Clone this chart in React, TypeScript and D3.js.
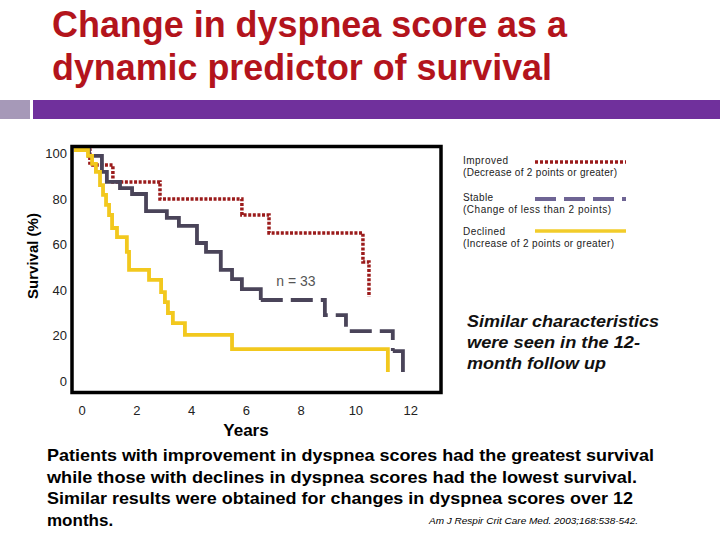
import React from "react";
import * as d3 from "d3";

const W = 720;
const H = 540;

// Kaplan–Meier step data: [years, survival %]
const improvedData: [number, number][] = [
  [0, 100], [0.58, 93.4], [1.42, 86.0], [3.14, 78.5], [6.13, 71.5], [7.12, 63.6], [10.55, 50.9], [10.77, 35.5],
];
const stableData: [number, number][] = [
  [0, 100], [0.55, 97.4], [1.02, 90.4], [1.2, 86.0], [1.68, 83.3], [2.12, 80.7], [2.63, 73.2], [3.39, 70.2],
  [3.83, 66.7], [4.49, 59.2], [4.82, 55.3], [5.36, 47.4], [5.77, 43.4], [6.13, 39.0], [6.82, 34.2],
];
const stableTail: [number, number][] = [
  [6.82, 34.2], [9.16, 27.6], [9.93, 20.6], [11.64, 11.8],
];
const stableEnd: [number, number][] = [
  [11.64, 11.8], [12.01, 2.6],
];
const declinedData: [number, number][] = [
  [0, 100], [0.51, 97.4], [0.66, 93.9], [0.8, 90.4], [0.95, 84.6], [1.06, 80.3], [1.17, 75.9], [1.28, 71.5],
  [1.39, 65.8], [1.57, 61.8], [1.93, 55.3], [2.01, 47.4], [2.74, 43.0], [3.18, 37.7], [3.32, 33.3],
  [3.43, 28.5], [3.61, 24.1], [4.05, 18.9], [5.77, 12.7], [11.46, 2.6],
];
const xTicks = [0, 2, 4, 6, 8, 10, 12];
const yTicks = [0, 20, 40, 60, 80, 100];

const legendItems = [
  { name: "Improved", desc: "(Decrease of  2 points or greater)", color: "#9b1b1b", dash: "3,2", width: 3.5, nameW: 45, descW: 154 },
  { name: "Stable", desc: "(Change of less than 2 points)", color: "#6e6494", dash: "21,8", width: 4, nameW: 30, descW: 148 },
  { name: "Declined", desc: "(Increase of  2 points or greater)", color: "#f2cc2a", dash: "none", width: 3.5, nameW: 42, descW: 151 },
];

const titleLines = ["Change in dyspnea score as a", "dynamic predictor of survival"];
const noteLines = ["Similar characteristics", "were seen in the 12-", "month follow up"];
const noteWidths = [192, 173, 139];
const bodyLines = [
  "Patients with improvement in dyspnea scores had the greatest survival",
  "while those with declines in dyspnea scores had the lowest survival.",
  "Similar results were obtained for changes in dyspnea scores over 12",
  "months.",
];

export default function App() {
  const x = d3.scaleLinear().domain([0, 13.4]).range([74, 441]);
  const y = d3.scaleLinear().domain([0, 100]).range([378, 150]);
  const line = d3
    .line<[number, number]>()
    .x((d) => x(d[0]))
    .y((d) => y(d[1]))
    .curve(d3.curveStepAfter);

  const legendX0 = 535;
  const legendX1 = 626;
  const legendY = [162, 199, 231];
  const legendTextY = [161, 198, 232];

  return (
    <svg
      width={W}
      height={H}
      style={{ position: "absolute", left: 0, top: 0, background: "#fff" }}
      fontFamily="'Liberation Sans', Arial, sans-serif"
    >
      <rect x={0} y={0} width={W} height={H} fill="#fff" />
      {/* Title */}
      {titleLines.map((t, i) => (
        <text key={i} x={52} y={37 + i * 43} fontSize={36} fontWeight="bold" fill="#b3141c" textLength={i === 0 ? 515 : 500} lengthAdjust="spacingAndGlyphs">
          {t}
        </text>
      ))}
      {/* Decorative bars */}
      <rect x={0} y={100} width={30} height={19} fill="#a699b8" />
      <rect x={33} y={100} width={687} height={19} fill="#70309c" />

      {/* Curves */}
      <path d={line(improvedData) || ""} fill="none" stroke="#9b1b1b" strokeWidth={3.5} strokeDasharray="3,1.6" />
      <path d={line(stableData) || ""} fill="none" stroke="#4a4459" strokeWidth={3.8} />
      <path d={line(stableTail) || ""} fill="none" stroke="#4a4459" strokeWidth={3.8} strokeDasharray="22,8" />
      <path d={line(stableEnd) || ""} fill="none" stroke="#4a4459" strokeWidth={3.8} />
      <path d={line(declinedData) || ""} fill="none" stroke="#f2c81e" strokeWidth={3.8} />

      {/* Frame */}
      <rect x={72} y={146.5} width={369} height={246} fill="none" stroke="#000" strokeWidth={3.5} />

      {/* Y ticks */}
      {yTicks.map((v) => (
        <text key={v} x={67} y={y(v) + 8} fontSize={13} textAnchor="end" fill="#222">
          {v}
        </text>
      ))}
      {/* X ticks */}
      {xTicks.map((v) => (
        <text key={v} x={x(v) + 8} y={415} fontSize={13} textAnchor="middle" fill="#222">
          {v}
        </text>
      ))}
      <text x={246} y={436} fontSize={17} fontWeight="bold" textAnchor="middle" fill="#000">
        Years
      </text>
      <text transform="translate(38,256) rotate(-90)" fontSize={15} fontWeight="bold" textAnchor="middle" fill="#000">
        Survival (%)
      </text>

      <text x={296} y={286} fontSize={14} textAnchor="middle" fill="#555">
        n = 33
      </text>

      {/* Legend */}
      {legendItems.map((it, i) => (
        <g key={it.name}>
          <text x={463} y={legendTextY[i] + 3} fontSize={10} fill="#222" textLength={it.nameW} lengthAdjust="spacing">
            {it.name}
          </text>
          <text x={463} y={legendTextY[i] + 15} fontSize={10} fill="#222" textLength={it.descW} lengthAdjust="spacing">
            {it.desc}
          </text>
          <line x1={legendX0} x2={legendX1} y1={legendY[i]} y2={legendY[i]} stroke={it.color} strokeWidth={it.width} strokeDasharray={it.dash} />
        </g>
      ))}

      {/* Note */}
      {noteLines.map((t, i) => (
        <text key={i} x={467} y={327 + i * 21} fontSize={16.5} fontWeight="bold" fontStyle="italic" fill="#111" textLength={noteWidths[i]} lengthAdjust="spacingAndGlyphs">
          {t}
        </text>
      ))}

      {/* Body text */}
      {bodyLines.map((t, i) => (
        <text key={i} x={47} y={461 + i * 21.5} fontSize={17} fontWeight="bold" fill="#000" textLength={i < 3 ? [607, 590, 586][i] : undefined} lengthAdjust="spacingAndGlyphs">
          {t}
        </text>
      ))}
      <text x={429} y={524} fontSize={9} fontStyle="italic" fill="#000" textLength={209} lengthAdjust="spacingAndGlyphs">
        Am J Respir Crit Care Med. 2003;168:538-542.
      </text>
    </svg>
  );
}
